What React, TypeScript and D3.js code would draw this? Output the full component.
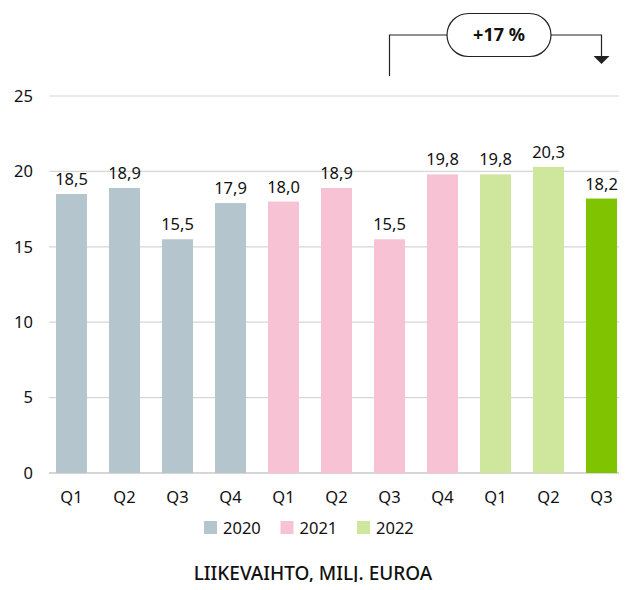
import React from 'react';
import * as d3 from 'd3';

const quarters = ['Q1', 'Q2', 'Q3', 'Q4', 'Q1', 'Q2', 'Q3', 'Q4', 'Q1', 'Q2', 'Q3'];
const years = ['2020', '2020', '2020', '2020', '2021', '2021', '2021', '2021', '2022', '2022', '2022'];
const values = [18.5, 18.9, 15.5, 17.9, 18.0, 18.9, 15.5, 19.8, 19.8, 20.3, 18.2];
const yTicks = [0, 5, 10, 15, 20, 25];
const legendYears = ['2020', '2021', '2022'];
const yearColor: Record<string, string> = { '2020': '#b5c5cd', '2021': '#f7c3d4', '2022': '#cfe69d' };
const highlightColor = '#80c300';
const changeLabel = '+17 %';
const changeFrom = 6;
const changeTo = 10;
const title = 'LIIKEVAIHTO, MILJ. EUROA';

const W = 627;
const H = 590;
const font = '"Noto Sans", "DejaVu Sans", sans-serif';

const App: React.FC = () => {
  const idx = values.map((_, i) => String(i));
  const x = d3.scaleBand<string>().domain(idx).range([45, 628]).paddingInner(0.415).paddingOuter(0.2075);
  const y = d3.scaleLinear().domain([0, 25]).range([473, 96]);
  const fmt = (v: number) => d3.format('.1f')(v).replace('.', ',');

  const cx = (i: number) => (x(String(i)) ?? 0) + x.bandwidth() / 2;
  const x1 = cx(changeFrom);
  const x2 = cx(changeTo);
  const pillCx = 499, pillCy = 35, pillW = 104, pillH = 43;

  return (
    <div style={{ margin: -8 }}>
      <svg width={W} height={H} style={{ display: 'block', fontFamily: font }}>
        <rect width={W} height={H} fill="#fff" />
        {yTicks.map((t) => (
          <g key={t}>
            <line x1={49} x2={627} y1={y(t)} y2={y(t)} stroke={t === 0 ? '#c8c8c8' : '#d6d6d6'} strokeWidth={t === 0 ? 1.5 : 1.2} />
            <text x={33} y={y(t)} dy="0.35em" textAnchor="end" fontSize={16.5} fill="#111">{t}</text>
          </g>
        ))}
        {values.map((v, i) => (
          <g key={i}>
            <rect
              x={x(String(i))}
              y={y(v)}
              width={x.bandwidth()}
              height={y(0) - y(v)}
              fill={i === values.length - 1 ? highlightColor : yearColor[years[i]]}
            />
            <text x={cx(i)} y={y(v) - 9} textAnchor="middle" fontSize={16.5} fill="#111">{fmt(v)}</text>
            <text x={cx(i)} y={497} dy="0.35em" textAnchor="middle" fontSize={16.5} fill="#111">{quarters[i]}</text>
          </g>
        ))}
        {legendYears.map((yr, i) => {
          const lx = 204 + i * 76.5;
          return (
            <g key={yr}>
              <rect x={lx} y={521} width={13} height={13} fill={yearColor[yr]} />
              <text x={lx + 19} y={528} dy="0.35em" fontSize={16.5} fill="#111">{yr}</text>
            </g>
          );
        })}
        <text x={313} y={580} textAnchor="middle" fontSize={19} fontWeight={500} fill="#111">{title}</text>

        <path
          d={`M${x1},76V${pillCy}H${pillCx - pillW / 2}M${pillCx + pillW / 2},${pillCy}H${x2}V57`}
          fill="none"
          stroke="#222"
          strokeWidth={1.2}
        />
        <path d={`M${x2 - 8},56L${x2 + 8},56L${x2},64Z`} fill="#222" />
        <rect
          x={pillCx - pillW / 2}
          y={pillCy - pillH / 2}
          width={pillW}
          height={pillH}
          rx={pillH / 2}
          fill="#fff"
          stroke="#222"
          strokeWidth={1.2}
        />
        <text x={pillCx} y={pillCy} dy="0.35em" textAnchor="middle" fontSize={18} fontWeight={700} fill="#111">{changeLabel}</text>
      </svg>
    </div>
  );
};

export default App;
